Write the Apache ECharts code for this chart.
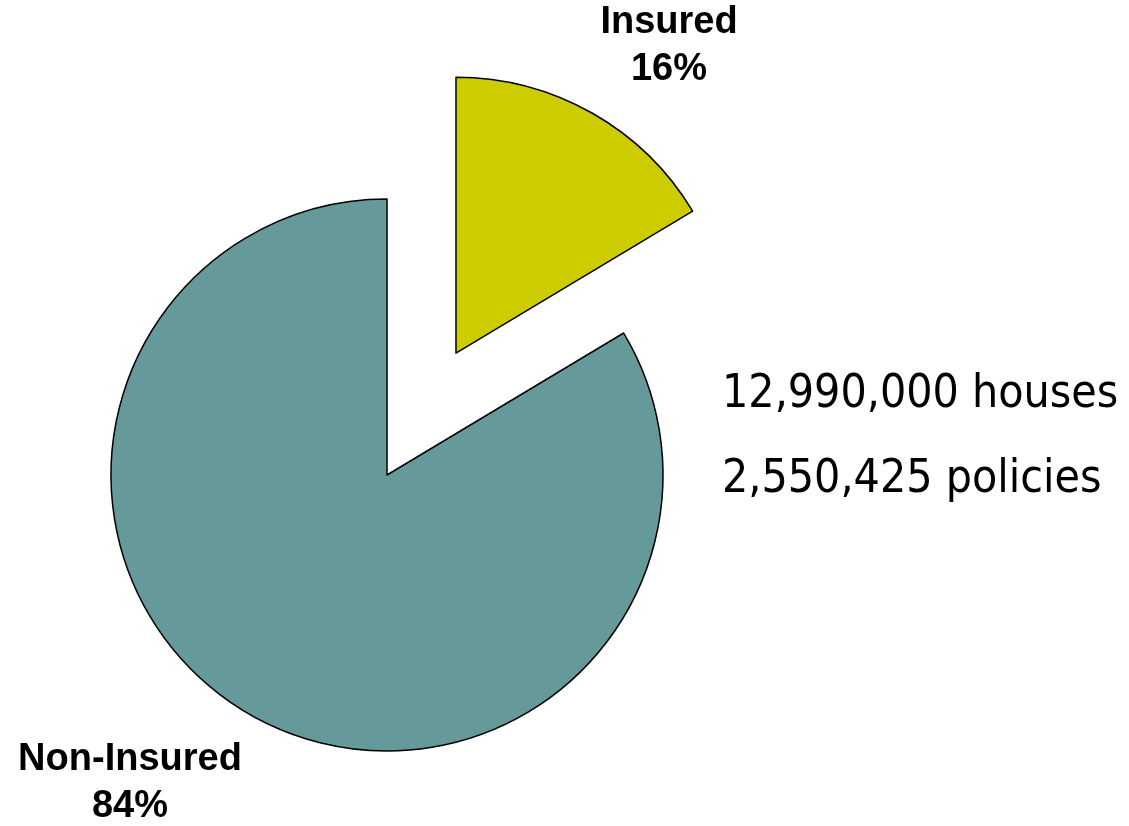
<!DOCTYPE html>
<html>
<head>
<meta charset="utf-8">
<script src="https://cdn.jsdelivr.net/npm/echarts@6/dist/echarts.min.js"></script>
<style>
html,body{margin:0;padding:0;background:#fff;}
#chart{width:1129px;height:826px;}
</style>
</head>
<body>
<div id="chart"></div>
<script>
var categories = ['Insured', 'Non-Insured'];
var values = [16.4, 83.6];
var colors = ['#CCCC00', '#669999'];
var summaryLines = ['12,990,000 houses', '2,550,425 policies'];

var chart = echarts.init(document.getElementById('chart'), null, {renderer: 'canvas'});

var labelPos = [
  {x: 669, y: 46},
  {x: 130, y: 783}
];
var total = values.reduce(function (a, b) { return a + b; }, 0);

var labelGraphics = categories.map(function (c, i) {
  return {
    type: 'text',
    x: labelPos[i].x,
    y: labelPos[i].y,
    style: {
      text: c + '\n' + Math.round(values[i] / total * 100) + '%',
      align: 'center',
      verticalAlign: 'middle',
      fontFamily: 'Liberation Sans, Arial, sans-serif',
      fontWeight: 'bold',
      fontSize: 38,
      lineHeight: 47,
      fill: '#000'
    }
  };
});

var summaryGraphics = summaryLines.map(function (t, i) {
  return {
    type: 'text',
    left: 722,
    top: 372 + i * 85,
    style: {
      text: t,
      fontFamily: 'DejaVu Sans Condensed, DejaVu Sans, sans-serif',
      fontSize: 46,
      fill: '#000'
    }
  };
});

var option = {
  backgroundColor: '#ffffff',
  animation: false,
  series: [{
    type: 'pie',
    center: [387, 475],
    radius: [0, 276],
    startAngle: 90,
    clockwise: true,
    selectedMode: 'single',
    selectedOffset: 140,
    emphasis: {disabled: true},
    itemStyle: {borderColor: '#000', borderWidth: 1.5},
    label: {show: false},
    labelLine: {show: false},
    data: categories.map(function (c, i) {
      return {
        name: c,
        value: values[i],
        selected: i === 0,
        itemStyle: {color: colors[i]},
        select: {itemStyle: {color: colors[i], borderColor: '#000', borderWidth: 1.5}}
      };
    })
  }],
  graphic: labelGraphics.concat(summaryGraphics)
};
chart.setOption(option);
</script>
</body>
</html>
